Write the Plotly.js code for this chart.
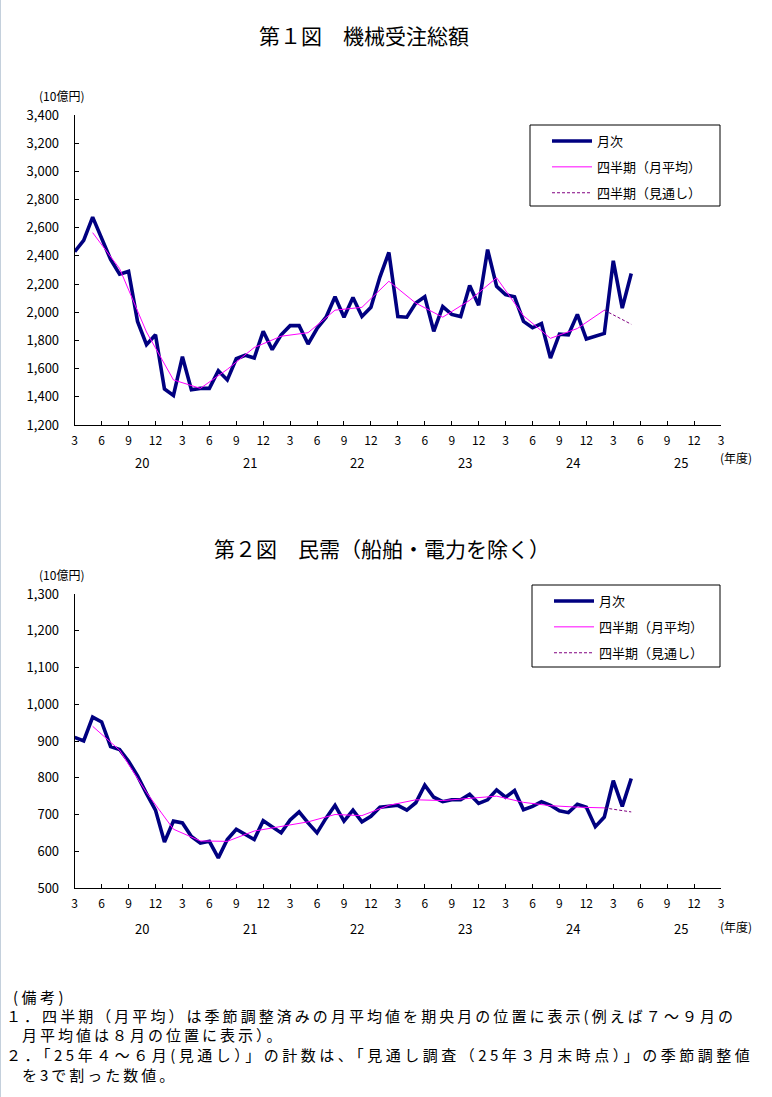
<!DOCTYPE html>
<html>
<head>
<meta charset="utf-8">
<script src="https://cdn.plot.ly/plotly-3.0.1.min.js"></script>
<style>
html,body{margin:0;padding:0;background:#fff;}
#wrap{position:relative;width:772px;height:1097px;overflow:hidden;}
#chart{position:absolute;left:0;top:0;width:772px;height:1097px;}
#edge{position:absolute;left:0;top:0;width:1px;height:1097px;background:#c4d0dc;}
.note{position:absolute;font-family:'Noto Sans CJK JP',sans-serif;font-size:15px;letter-spacing:3px;color:#000;white-space:nowrap;line-height:20px;}
</style>
</head>
<body>
<div id="wrap">
<div id="chart"></div>
<div id="edge"></div>
<div class="note" style="left:13px;top:987px;letter-spacing:3.5px;">(備考)</div>
<div class="note" style="left:6px;top:1006px;letter-spacing:3.05px;">１．四半期（月平均）は季節調整済みの月平均値を期央月の位置に表示(例えば７～９月の</div>
<div class="note" style="left:22px;top:1025px;">月平均値は８月の位置に表示）。</div>
<div class="note" style="left:6px;top:1045px;letter-spacing:3.5px;">２．「25年４～６月(見通し）」の計数は、「見通し調査（25年３月末時点）」の季節調整値</div>
<div class="note" style="left:22px;top:1065px;">を3で割った数値。</div>
</div>
<script>
// ---- data (10億円) ----
// month ticks (every 3 months) and fiscal-year labels
const monthTickLabels = ['3','6','9','12','3','6','9','12','3','6','9','12','3','6','9','12','3','6','9','12','3','6','9','12','3'];
const fiscalYears = ['20','21','22','23','24','25'];

// 第1図 機械受注総額 : monthly
const totalMonthly = [2430,2510,2675,2520,2375,2270,2290,1935,1770,1840,1455,1410,1685,1450,1460,1460,1585,1520,1670,1695,1675,1865,1735,1840,1905,1905,1775,1885,1965,2110,1965,2105,1970,2035,2250,2425,1970,1965,2065,2110,1865,2040,1985,1970,2190,2050,2445,2185,2125,2110,1935,1890,1920,1675,1845,1840,1985,1810,1830,1850,2365,2030,2275];
// quarterly (monthly average), plotted at mid-month of quarter
const totalQuarterly = [2565,2310,1860,1520,1460,1595,1750,1830,1855,2015,2035,2220,2065,1965,2085,2245,1975,1815,1885,2015];
const totalOutlook = 1915;

// 第2図 民需（船舶・電力を除く）
const coreMonthly = [910,900,965,952,885,877,845,805,757,712,625,682,677,640,622,627,582,632,660,645,632,683,667,650,685,707,677,650,690,725,682,712,680,695,720,722,725,712,732,780,747,735,740,740,755,730,740,767,747,765,713,722,735,725,710,705,728,720,667,693,792,722,798];
const coreQuarterly = [940,875,760,660,628,627,655,667,680,700,697,725,740,738,745,750,733,724,720,718];
const coreOutlook = 707;

const seriesNames = ['月次','四半期（月平均）','四半期（見通し）'];

// ---- geometry helpers ----
const W = 772, H = 1097;
const px = v => v / W;
const py = v => 1 - v / H;
const FONT = "'Noto Sans CJK JP', 'Noto Sans', sans-serif";

const monthX = totalMonthly.map((_, i) => i);
const quarterX = totalQuarterly.map((_, k) => 2 + 3 * k);
const lastQ = quarterX[quarterX.length - 1];
const outlookX = [lastQ, lastQ + 3];

function traces(monthly, quarterly, outlook, xa, ya, leg) {
  return [
    {x: monthX, y: monthly, xaxis: xa, yaxis: ya, type: 'scatter', mode: 'lines',
     name: seriesNames[0], legend: leg, legendgroup: leg + 'a',
     line: {color: '#000080', width: 3.6}},
    {x: quarterX, y: quarterly, xaxis: xa, yaxis: ya, type: 'scatter', mode: 'lines',
     name: seriesNames[1], legend: leg, legendgroup: leg + 'b',
     line: {color: '#ff00ff', width: 1}},
    {x: outlookX, y: [quarterly[quarterly.length - 1], outlook], xaxis: xa, yaxis: ya,
     type: 'scatter', mode: 'lines', name: seriesNames[2], legend: leg, legendgroup: leg + 'c',
     line: {color: '#800080', width: 1, dash: '3px,2px'}}
  ];
}

const data = [
  ...traces(totalMonthly, totalQuarterly, totalOutlook, 'x', 'y', 'legend'),
  ...traces(coreMonthly, coreQuarterly, coreOutlook, 'x2', 'y2', 'legend2')
];

const tickVals = monthTickLabels.map((_, k) => 3 * k);

function xAxis(anchor) {
  return {
    domain: [px(74.7), px(721)], range: [0, 72], anchor: anchor,
    tickvals: tickVals, ticktext: monthTickLabels,
    ticks: 'inside', ticklen: 4, tickwidth: 1, tickcolor: '#000',
    showline: true, linecolor: '#000', linewidth: 1,
    showgrid: false, zeroline: false, ticklabelstandoff: 5,
    tickfont: {family: FONT, size: 12, color: '#000'}, fixedrange: true
  };
}
function yAxis(anchor, dom, range, dtick) {
  return {
    domain: dom, range: range, dtick: dtick, tick0: range[0], anchor: anchor,
    tickformat: ',d', ticks: 'inside', ticklen: 4, tickwidth: 1, tickcolor: '#000',
    showline: true, linecolor: '#000', linewidth: 1,
    showgrid: false, zeroline: false, ticklabelstandoff: 12,
    tickfont: {family: FONT, size: 13, color: '#000'}, fixedrange: true
  };
}

const annotations = [];
function ann(text, x, y, size, extra) {
  annotations.push(Object.assign({text: text, x: x, y: y, xref: 'paper', yref: 'paper',
    showarrow: false, xanchor: 'center', yanchor: 'middle',
    font: {family: FONT, size: size, color: '#000'}}, extra || {}));
}
ann('第１図　機械受注総額', px(364), py(35), 21);
ann('第２図　民需（船舶・電力を除く）', px(382), py(548), 21);
ann('(10億円)', px(62), py(96), 12);
ann('(10億円)', px(62), py(574), 12);
ann('(年度)', px(736), py(457), 12);
ann('(年度)', px(736), py(926), 12);
fiscalYears.forEach((fy, k) => {
  ann(fy, 7.5 + 12 * k, py(463), 13, {xref: 'x'});
  ann(fy, 7.5 + 12 * k, py(928), 13, {xref: 'x2'});
});

function legendBox(x, y) {
  return {x: px(x), y: py(y), xanchor: 'left', yanchor: 'top',
    bgcolor: 'rgba(0,0,0,0)', borderwidth: 0,
    font: {family: FONT, size: 13, color: '#000'},
    traceorder: 'grouped', tracegroupgap: 6, itemwidth: 40};
}
// decorative frames around the legends
function frame(x0, y0, x1, y1) {
  return {type: 'rect', xref: 'paper', yref: 'paper', x0: px(x0), x1: px(x1), y0: py(y1), y1: py(y0),
    line: {color: '#000', width: 1}, fillcolor: '#fff', layer: 'below'};
}

const layout = {
  width: W, height: H,
  margin: {l: 0, r: 0, t: 0, b: 0},
  paper_bgcolor: '#fff', plot_bgcolor: 'rgba(0,0,0,0)',
  showlegend: true,
  xaxis: xAxis('y'),
  yaxis: yAxis('x', [py(425), py(115)], [1200, 3400], 200),
  xaxis2: xAxis('y2'),
  yaxis2: yAxis('x2', [py(888), py(594)], [500, 1300], 100),
  legend: legendBox(547, 126),
  legend2: legendBox(549, 586),
  shapes: [frame(530, 125, 720, 206), frame(532, 585, 720, 667)],
  annotations: annotations
};

Plotly.newPlot('chart', data, layout, {staticPlot: true, displayModeBar: false});
</script>
</body>
</html>
